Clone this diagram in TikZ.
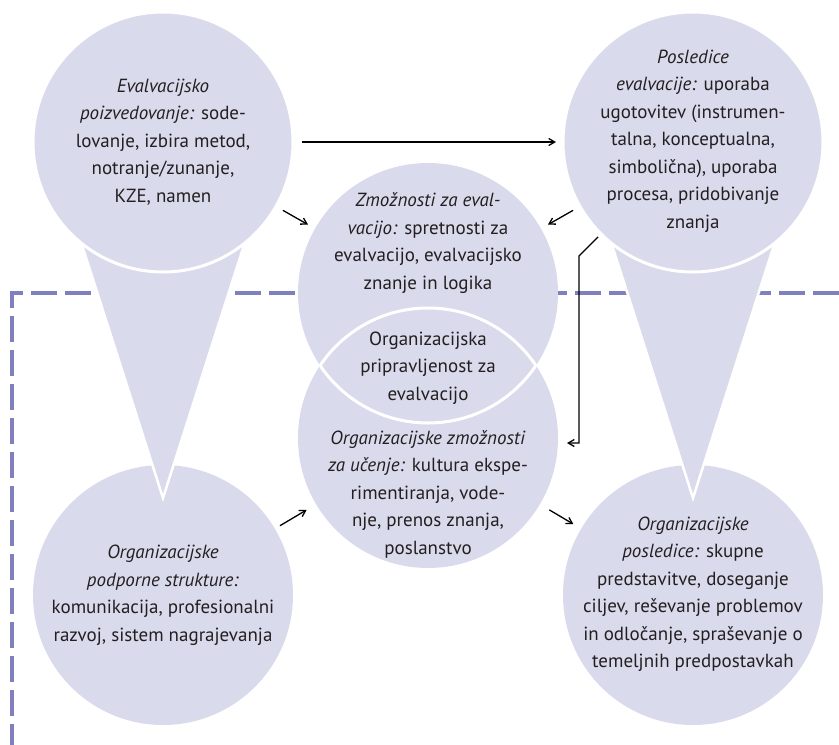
\documentclass[tikz,border=0pt]{standalone}
\usepackage{fontspec}
\setmainfont{PT Sans}
\usetikzlibrary{arrows.meta}
\definecolor{disc}{RGB}{217,218,236}
\definecolor{frame}{RGB}{128,128,190}
\definecolor{ink}{RGB}{35,31,32}
\begin{document}
\begin{tikzpicture}[x=1pt,y=-1pt,
  disk/.style={circle,fill=disc,minimum size=260pt,inner sep=0pt,outer sep=0pt},
  rimmed/.style={disk,draw=white,line width=3pt},
  cone/.style={fill=disc,draw=white,line width=2.5pt,line join=miter},
  label/.style={align=center,inner sep=0pt,text=ink,font=\fontsize{19}{27.5}\selectfont},
  arr/.style={-{Straight Barb[length=6pt,width=7pt]},line width=1.3pt,black},
  boundary/.style={draw=frame,line width=3.2pt,dash pattern=on 26pt off 8pt}]
\useasboundingbox (0,0) rectangle (839,745);

% organisational boundary
\coordinate (f1) at (839,293);
\coordinate (f2) at (12,293);
\coordinate (f3) at (12,745);
\draw[boundary] (f1) -- (f2) -- (f3);

% lower outer circles
\node[disk] (bl) at (163,595) {};
\node[disk] (br) at (693,595) {};

% funnels from the upper to the lower circles
\draw[cone] (49,142) -- (277,142) -- (163,498) -- cycle;
\draw[cone] (579,142) -- (807,142) -- (693,498) -- cycle;

% upper outer circles
\node[rimmed] (tl) at (163,142) {};
\node[rimmed] (tr) at (693,142) {};

% central pair of overlapping circles
\node[disk] (mt) at (428,293) {};
\node[disk] (mb) at (428,438) {};
\begin{scope}
  \clip (mt.center) circle (130pt);
  \draw[white,line width=3pt] (mb.center) circle (130pt);
\end{scope}
\begin{scope}
  \clip (mb.center) circle (130pt);
  \draw[white,line width=3pt] (mt.center) circle (130pt);
\end{scope}

% texts
\node[label] (ttl) at (163,142) {\textit{Evalvacijsko}\\\textit{poizvedovanje:} sode-\\lovanje, izbira metod,\\notranje/zunanje,\\KZE, namen};
\node[label] (ttr) at (693,141) {\textit{Posledice}\\\textit{evalvacije:} uporaba\\ugotovitev (instrumen-\\talna, konceptualna,\\simbolična), uporaba\\procesa, pridobivanje\\znanja};
\node[label] (tmt) at (428,243) {\textit{Zmožnosti za eval-}\\\textit{vacijo:} spretnosti za\\evalvacijo, evalvacijsko\\znanje in logika};
\node[label] (tlens) at (428,368) {Organizacijska\\pripravljenost za\\evalvacijo};
\node[label] (tmb) at (428,494) {\textit{Organizacijske zmožnosti}\\\textit{za učenje:} kultura ekspe-\\rimentiranja, vode-\\nje, prenos znanja,\\poslanstvo};
\node[label] (tbl) at (163,595) {\textit{Organizacijske}\\\textit{podporne strukture:}\\komunikacija, profesionalni\\razvoj, sistem nagrajevanja};
\node[label] (tbr) at (693,594) {\textit{Organizacijske}\\\textit{posledice:} skupne\\predstavitve, doseganje\\ciljev, reševanje problemov\\in odločanje, spraševanje o\\temeljnih predpostavkah};

% connectors
\draw[arr,shorten <=9pt,shorten >=7pt] (tl) -- (tr);
\draw[arr,shorten <=8pt,shorten >=8pt] (tl) -- (mt);
\draw[arr,shorten <=8pt,shorten >=8pt] (tr) -- (mt);
\draw[arr,shorten <=6pt,shorten >=11pt] (bl) -- (mb);
\draw[arr,shorten <=11pt,shorten >=9pt] (mb) -- (br);
\coordinate (k1) at (579,256);
\coordinate (k2) at (579,443);
\draw[arr,line join=miter] ([shift={(-3pt,-3pt)}]tr.south west) -- (k1) -- (k2) -- ([xshift=9pt]mb.east |- k2);
\end{tikzpicture}
\end{document}
